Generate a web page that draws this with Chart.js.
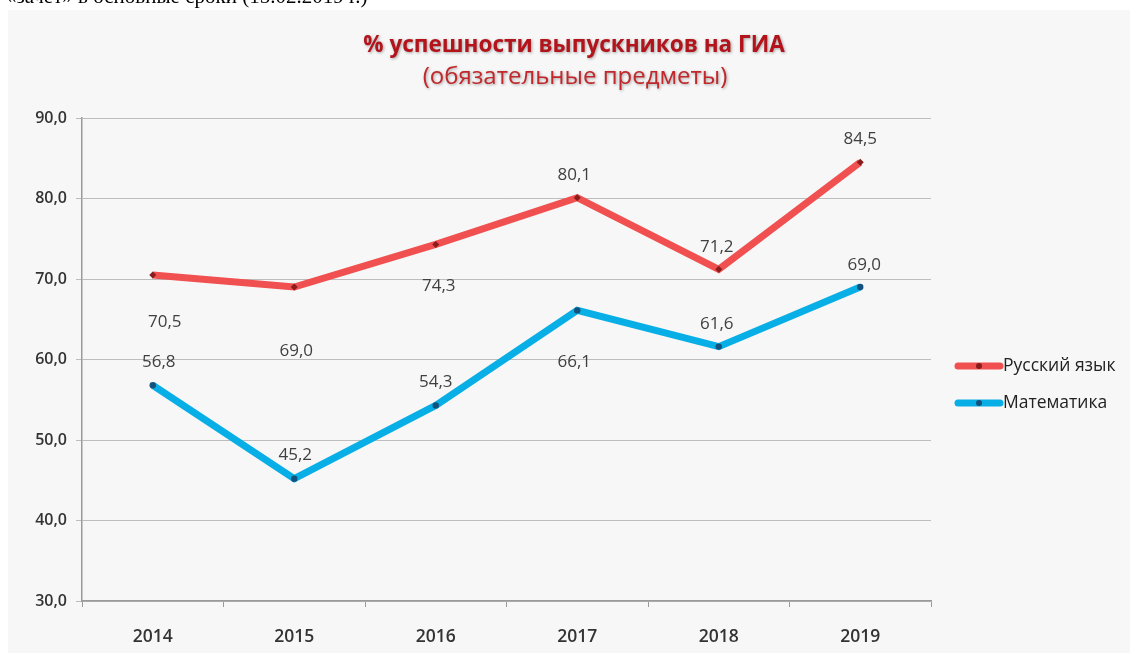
<!DOCTYPE html>
<html>
<head>
<meta charset="utf-8">
<script src="https://cdn.jsdelivr.net/npm/chart.js@4.4.1/dist/chart.umd.min.js"></script>
<style>
  html, body { margin: 0; padding: 0; background: #ffffff; overflow: hidden; }
  #wrap { position: relative; width: 1130px; height: 653px; }
  #topline { position: absolute; left: 6px; top: -16px; font-family: "Liberation Serif", "DejaVu Serif", serif; font-size: 21px; color: #000; white-space: nowrap; z-index: 2; }
  canvas { position: absolute; left: 0; top: 0; }
</style>
</head>
<body>
<div id="wrap">
  <div id="topline">«зачет» в основные сроки (15.02.2019 г.)</div>
  <canvas id="c" width="1130" height="653"></canvas>
</div>
<script>
// ---- data ----
const categories = ["2014", "2015", "2016", "2017", "2018", "2019"];
const russian = [70.5, 69.0, 74.3, 80.1, 71.2, 84.5];
const math = [56.8, 45.2, 54.3, 66.1, 61.6, 69.0];
const seriesNames = ["Русский язык", "Математика"];
const yTicks = [30, 40, 50, 60, 70, 80, 90];
const titleText = "% успешности выпускников на ГИА";
const subtitleText = "(обязательные предметы)";

// label placement offsets (layout only), [dx, dy] relative to the point
const russianLabelOffsets = [[12, 47], [2, 64], [3, 42], [-3, -23], [-2, -22], [0, -23]];
const mathLabelOffsets = [[6, -23], [1, -23], [0, -23], [-3, 52], [-2, -22], [4, -22]];

const fmt = v => v.toFixed(1).replace('.', ',');

const bgPlugin = {
  id: 'bg',
  beforeDraw(chart) {
    const ctx = chart.ctx;
    ctx.save();
    ctx.fillStyle = '#f7f7f7';
    ctx.fillRect(8, 10, chart.width - 8, chart.height - 10);
    ctx.restore();
  }
};

const titlePlugin = {
  id: 'titles',
  afterDraw(chart) {
    const ctx = chart.ctx;
    ctx.save();
    ctx.textAlign = 'center';
    ctx.textBaseline = 'middle';
    ctx.shadowColor = 'rgba(0,0,0,0.35)';
    ctx.shadowBlur = 3;
    ctx.shadowOffsetX = 1;
    ctx.shadowOffsetY = 1;
    ctx.fillStyle = '#b3141c';
    ctx.font = 'bold 22.5px "Open Sans"';
    ctx.fillText(titleText, 574, 46);
    ctx.fillStyle = '#c0282c';
    ctx.font = '24px "Open Sans"';
    ctx.fillText(subtitleText, 575, 77);
    ctx.restore();
  }
};

const labelPlugin = {
  id: 'vlabels',
  afterDatasetsDraw(chart) {
    const ctx = chart.ctx;
    const offs = [russianLabelOffsets, mathLabelOffsets];
    ctx.save();
    ctx.font = '17px "Open Sans"';
    ctx.fillStyle = '#404040';
    ctx.textAlign = 'center';
    ctx.textBaseline = 'middle';
    chart.data.datasets.forEach((ds, i) => {
      const meta = chart.getDatasetMeta(i);
      meta.data.forEach((pt, j) => {
        const o = offs[i][j];
        ctx.fillText(fmt(ds.data[j]), pt.x + o[0], pt.y + o[1]);
      });
    });
    ctx.restore();
  }
};

const legendPlugin = {
  id: 'customLegend',
  afterDraw(chart) {
    const ctx = chart.ctx;
    ctx.save();
    const x0 = 958, x1 = 1000;
    const ys = [366, 403];
    chart.data.datasets.forEach((ds, i) => {
      const y = ys[i];
      ctx.strokeStyle = ds.borderColor;
      ctx.lineWidth = 7;
      ctx.lineCap = 'round';
      ctx.beginPath();
      ctx.moveTo(x0, y);
      ctx.lineTo(x1, y);
      ctx.stroke();
      ctx.fillStyle = ds.pointBackgroundColor;
      ctx.beginPath();
      ctx.arc((x0 + x1) / 2, y, 3, 0, Math.PI * 2);
      ctx.fill();
      ctx.fillStyle = '#222';
      ctx.font = '17.5px "Open Sans"';
      ctx.textAlign = 'left';
      ctx.textBaseline = 'middle';
      ctx.fillText(ds.label, x1 + 3, y);
    });
    ctx.restore();
  }
};

new Chart(document.getElementById('c'), {
  type: 'line',
  data: {
    labels: categories,
    datasets: [
      {
        label: seriesNames[0],
        data: russian,
        borderColor: '#f0504f',
        borderWidth: 7,
        pointRadius: 3.5,
        pointStyle: 'rectRot',
        pointBackgroundColor: '#8a1c1c',
        pointBorderColor: '#8a1c1c',
        pointBorderWidth: 0,
        tension: 0
      },
      {
        label: seriesNames[1],
        data: math,
        borderColor: '#08aee6',
        borderWidth: 7,
        pointRadius: 3.2,
        pointStyle: 'circle',
        pointBackgroundColor: '#14527e',
        pointBorderColor: '#14527e',
        pointBorderWidth: 0,
        tension: 0
      }
    ]
  },
  options: {
    responsive: false,
    animation: false,
    devicePixelRatio: 1,
    layout: { padding: { left: 0, right: 199, top: 118, bottom: 0 } },
    plugins: {
      legend: { display: false },
      title: { display: false },
      tooltip: { enabled: false }
    },
    scales: {
      x: {
        offset: true,
        grid: { display: true, drawOnChartArea: false, drawTicks: true, tickLength: 6, offset: true, color: '#9a9a9a', lineWidth: 1 },
        border: { display: true, color: '#9a9a9a', width: 1.5 },
        ticks: { color: '#333', font: { family: '"Open Sans"', size: 17.5, weight: '600' }, padding: 20 },
        afterFit(scale) { scale.height = 52; }
      },
      y: {
        min: 30, max: 90,
        afterBuildTicks(scale) { scale.ticks = yTicks.map(v => ({ value: v })); },
        grid: { color: '#bdbdbd', lineWidth: 1, tickLength: 6, drawTicks: true },
        border: { display: true, color: '#9a9a9a', width: 1.5 },
        ticks: { color: '#333', font: { family: '"Open Sans"', size: 16, weight: '600' }, padding: 9, callback: v => fmt(v) },
        afterFit(scale) { scale.width = 82; }
      }
    }
  },
  plugins: [bgPlugin, labelPlugin, legendPlugin, titlePlugin]
});
</script>
</body>
</html>
